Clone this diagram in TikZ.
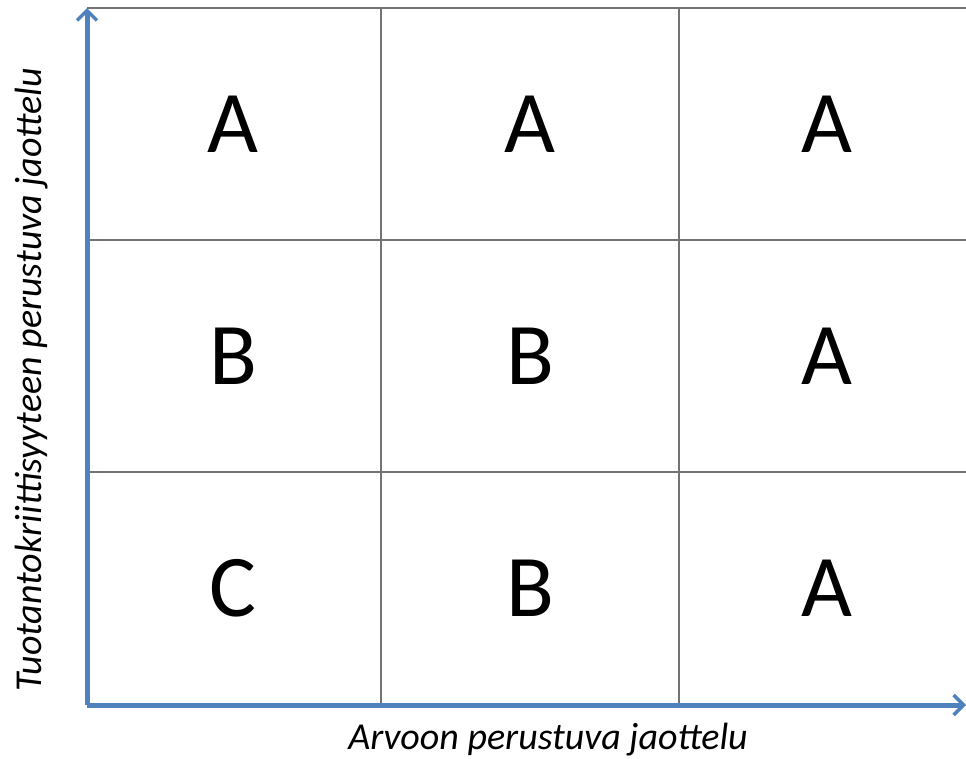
\documentclass[tikz,border=0pt]{standalone}
\usepackage{fontspec}
\setmainfont{Carlito}
\usetikzlibrary{arrows.meta}
\definecolor{axisblue}{HTML}{4F81BD}
\begin{document}
\begin{tikzpicture}[x=1pt, y=-1pt,
    grid/.style={draw=black!55, line width=1.1pt},
    axis/.style={draw=axisblue, line width=5pt, -{Straight Barb[length=10pt, width=20pt, line width=3.5pt]}},
    cls/.style={font=\fontsize{88}{92}\selectfont},
    axlabel/.style={font=\fontsize{38}{42}\selectfont\itshape}
]
    \useasboundingbox (0,0) rectangle (966,758);

    % grid lines
    \draw[grid] (87,8) -- (966,8);
    \draw[grid] (87,240) -- (966,240);
    \draw[grid] (87,472) -- (966,472);
    \draw[grid] (381,8) -- (381,705);
    \draw[grid] (679,8) -- (679,705);

    % classes
    \node[cls] (a11) at (233,124) {A};
    \node[cls] (a12) at (530,124) {A};
    \node[cls] (a13) at (827,124) {A};
    \node[cls] (b21) at (233,356) {B};
    \node[cls] (b22) at (530,356) {B};
    \node[cls] (a23) at (827,356) {A};
    \node[cls] (c31) at (233,588) {C};
    \node[cls] (b32) at (530,588) {B};
    \node[cls] (a33) at (827,588) {A};

    % axes
    \coordinate (origin) at (87,705);
    \coordinate (ytop) at (87,8);
    \coordinate (xend) at (966,705);
    \draw[axis] (origin) -- (ytop);
    \draw[axis] (origin) -- (xend);

    \node[axlabel] (xlab) at (548,740) {Arvoon perustuva jaottelu};
    \node[axlabel, rotate=90] (ylab) at (32,380) {Tuotantokriittisyyteen perustuva jaottelu};
\end{tikzpicture}
\end{document}
